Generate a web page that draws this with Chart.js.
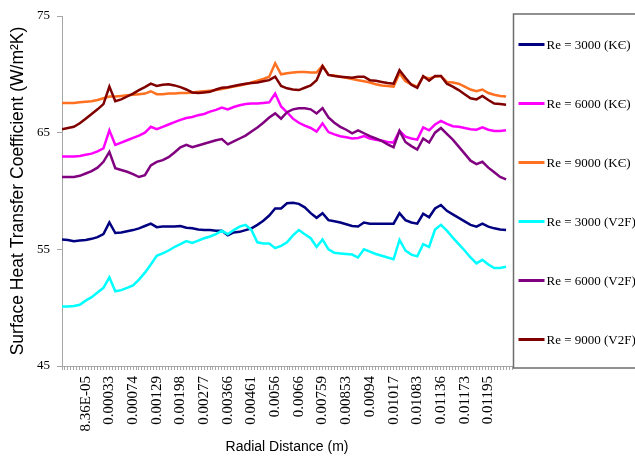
<!DOCTYPE html>
<html>
<head>
<meta charset="utf-8">
<script src="https://cdn.jsdelivr.net/npm/chart.js@4/dist/chart.umd.min.js"></script>
<style>
  html, body { margin: 0; padding: 0; background: #ffffff; }
  #wrap { width: 635px; height: 466px; }
</style>
</head>
<body>
<div id="wrap"><canvas id="chart" width="635" height="466"></canvas></div>
<script>
// Radial distance labels shown along the x axis (every 4th mesh station, starting at station 4)
const tickLabels = ['8.36E-05', '0.00033', '0.00074', '0.00129', '0.00198', '0.00277',
  '0.00366', '0.00461', '0.0056', '0.0066', '0.00759', '0.00853', '0.0094', '0.01017',
  '0.01083', '0.01136', '0.01173', '0.01195'];
const firstLabelStation = 4;
const labelEvery = 4;

const seriesNames = ['Re = 3000 (KЄ)', 'Re = 6000 (KЄ)', 'Re = 9000 (KЄ)',
  'Re = 3000 (V2F)', 'Re = 6000 (V2F)', 'Re = 9000 (V2F)'];

// Surface heat transfer coefficient (W/m²K) at each station
const re3000KE = [55.85, 55.8, 55.7, 55.75, 55.8, 55.9, 56.05, 56.3, 57.3, 56.4,
  56.45, 56.55, 56.65, 56.8, 57.0, 57.2, 56.9, 56.95, 56.95, 56.95,
  57.0, 56.85, 56.8, 56.7, 56.65, 56.65, 56.6, 56.6, 56.2, 56.45,
  56.5, 56.65, 56.8, 57.1, 57.45, 57.9, 58.5, 58.5, 58.95, 59.0,
  58.9, 58.6, 58.1, 57.7, 58.1, 57.5, 57.4, 57.3, 57.15, 57.0,
  56.95, 57.3, 57.2, 57.2, 57.2, 57.2, 57.2, 58.1, 57.5, 57.3,
  57.2, 58.05, 57.75, 58.5, 58.8, 58.3, 58.0, 57.7, 57.4, 57.1,
  56.95, 57.2, 56.95, 56.8, 56.7, 56.65];

const re6000KE = [62.95, 62.95, 62.95, 63.0, 63.1, 63.2, 63.4, 63.65, 65.2, 63.95,
  64.15, 64.35, 64.55, 64.75, 65.0, 65.5, 65.3, 65.5, 65.7, 65.9,
  66.1, 66.25, 66.35, 66.5, 66.6, 66.8, 66.95, 67.15, 67.0, 67.2,
  67.35, 67.45, 67.5, 67.5, 67.55, 67.6, 68.35, 67.25, 66.75, 66.2,
  65.85, 65.6, 65.4, 65.1, 65.8, 65.05, 64.85, 64.7, 64.6, 64.5,
  64.55, 64.7, 64.5, 64.4, 64.3, 64.2, 64.15, 65.15, 64.65, 64.5,
  64.4, 65.45, 65.2, 65.7, 66.0, 65.75, 65.55, 65.5, 65.4, 65.3,
  65.25, 65.45, 65.25, 65.15, 65.15, 65.2];

const re9000KE = [67.55, 67.55, 67.55, 67.6, 67.65, 67.7, 67.8, 67.95, 68.1, 68.1,
  68.15, 68.2, 68.25, 68.3, 68.35, 68.55, 68.3, 68.3, 68.35, 68.35,
  68.4, 68.4, 68.45, 68.5, 68.55, 68.6, 68.65, 68.75, 68.85, 68.95,
  69.05, 69.15, 69.3, 69.45, 69.6, 69.8, 70.95, 70.0, 70.1, 70.15,
  70.2, 70.2, 70.15, 70.15, 70.75, 69.95, 69.9, 69.8, 69.7, 69.6,
  69.5, 69.4, 69.3, 69.15, 69.05, 69.0, 68.95, 70.1, 69.4, 69.15,
  68.95, 69.8, 69.65, 69.8, 69.85, 69.35, 69.3, 69.2, 68.95, 68.7,
  68.55, 68.7, 68.4, 68.25, 68.15, 68.1];

const re3000V2F = [50.1, 50.1, 50.15, 50.25, 50.6, 50.9, 51.3, 51.7, 52.6, 51.4,
  51.5, 51.7, 51.9, 52.4, 53.0, 53.7, 54.45, 54.65, 54.9, 55.2,
  55.45, 55.7, 55.55, 55.75, 55.95, 56.1, 56.3, 56.6, 56.3, 56.65,
  56.95, 57.1, 56.65, 55.6, 55.5, 55.5, 55.1, 55.3, 55.6, 56.2,
  56.65, 56.3, 55.95, 55.2, 55.85, 55.0, 54.7, 54.65, 54.6, 54.55,
  54.3, 55.0, 54.8, 54.6, 54.45, 54.3, 54.15, 55.8, 54.9, 54.55,
  54.4, 55.45, 55.2, 56.7, 57.1, 56.6, 56.0, 55.45, 54.9, 54.3,
  53.8, 54.1, 53.7, 53.4, 53.4, 53.5];

const re6000V2F = [61.2, 61.2, 61.2, 61.3, 61.5, 61.7, 62.0, 62.5, 63.35, 61.95,
  61.8, 61.65, 61.45, 61.2, 61.35, 62.2, 62.5, 62.65, 62.9, 63.3,
  63.75, 63.95, 63.75, 63.9, 64.05, 64.2, 64.35, 64.45, 64.0, 64.25,
  64.5, 64.75, 65.1, 65.45, 65.85, 66.3, 66.65, 66.2, 66.75, 67.0,
  67.1, 67.1, 67.0, 66.65, 67.1, 66.3, 65.85, 65.5, 65.25, 64.95,
  65.2, 64.95, 64.7, 64.5, 64.3, 64.0, 63.75, 65.15, 64.2, 63.85,
  63.55, 64.5, 64.15, 65.0, 65.4, 64.9, 64.4, 63.8, 63.2, 62.6,
  62.3, 62.5, 62.0, 61.6, 61.2, 61.0];

const re9000V2F = [65.3, 65.4, 65.5, 65.8, 66.2, 66.6, 67.0, 67.45, 68.95, 67.7,
  67.85, 68.1, 68.35, 68.65, 68.9, 69.2, 69.0, 69.1, 69.15, 69.05,
  68.9, 68.7, 68.45, 68.4, 68.45, 68.5, 68.7, 68.85, 68.9, 69.0,
  69.1, 69.2, 69.25, 69.3, 69.4, 69.5, 69.8, 69.0, 68.8, 68.7,
  68.65, 68.85, 69.05, 69.5, 70.7, 69.95, 69.85, 69.8, 69.75, 69.7,
  69.8, 69.8, 69.5, 69.45, 69.35, 69.25, 69.2, 70.35, 69.7, 69.1,
  68.85, 69.85, 69.45, 69.85, 69.85, 69.2, 68.95, 68.65, 68.3, 67.95,
  67.85, 68.15, 67.8, 67.5, 67.45, 67.4];

const allSeries = [re3000KE, re6000KE, re9000KE, re3000V2F, re6000V2F, re9000V2F];
const seriesColors = ['#000080', '#ff00ff', '#ff7020', '#00ffff', '#800080', '#800000'];

const lastStation = re3000KE.length - 1;

const datasets = allSeries.map((values, k) => ({
  label: seriesNames[k],
  data: values.map((v, i) => ({ x: i, y: v })),
  borderColor: seriesColors[k],
  backgroundColor: seriesColors[k],
  borderWidth: 2.5,
  pointRadius: 0,
  tension: 0,
  fill: false,
  order: allSeries.length - k
}));

// Boxed legend to the right of the plot, items evenly spread over its height
const boxedLegend = {
  id: 'boxedLegend',
  afterDraw(chart) {
    const { ctx, chartArea } = chart;
    const top = chartArea.top - 2;
    const bottom = chartArea.bottom + 2;
    const left = chartArea.right + 1.5;
    const right = chart.width + 10;
    ctx.save();
    ctx.strokeStyle = '#6e6e6e';
    ctx.lineWidth = 1.5;
    ctx.strokeRect(left, top, right - left, bottom - top);
    const n = chart.data.datasets.length;
    const step = (bottom - top) / n;
    ctx.font = '13px "Liberation Serif", "Times New Roman", serif';
    ctx.textBaseline = 'middle';
    ctx.textAlign = 'left';
    chart.data.datasets.forEach((ds, k) => {
      const cy = Math.round(top + (k + 0.5) * step) + 0.5;
      ctx.strokeStyle = ds.borderColor;
      ctx.lineWidth = 3;
      ctx.beginPath();
      ctx.moveTo(left + 5, cy);
      ctx.lineTo(left + 31, cy);
      ctx.stroke();
      ctx.fillStyle = '#000';
      ctx.fillText(ds.label, left + 33, cy + 1);
    });
    ctx.restore();
  }
};

new Chart(document.getElementById('chart'), {
  type: 'line',
  data: { datasets },
  plugins: [boxedLegend],
  options: {
    responsive: false,
    animation: false,
    events: [],
    layout: { padding: { top: 16, right: 123, bottom: 0, left: 0 } },
    plugins: { legend: { display: false }, tooltip: { enabled: false } },
    scales: {
      x: {
        type: 'linear',
        min: 0,
        max: lastStation + 1,
        afterFit(scale) { scale.height = 100; },
        border: { color: '#a6a6a6', width: 1 },
        grid: { drawOnChartArea: false, drawTicks: true, tickLength: 4, color: '#a6a6a6' },
        ticks: {
          stepSize: 0.5,
          autoSkip: false,
          minRotation: 90,
          maxRotation: 90,
          padding: 6,
          color: '#000',
          font: { family: '"Liberation Serif", "Times New Roman", serif', size: 15 },
          callback(value) {
            const k = (value - firstLabelStation) / labelEvery;
            return (Number.isInteger(k) && k >= 0 && k < tickLabels.length) ? tickLabels[k] : '';
          }
        },
        title: {
          display: true,
          text: 'Radial Distance (m)',
          color: '#000',
          font: { family: '"Liberation Sans", Arial, sans-serif', size: 14 },
          padding: { top: 0, bottom: 10 }
        }
      },
      y: {
        min: 45,
        max: 75,
        afterFit(scale) { scale.width = 62; },
        border: { color: '#a6a6a6', width: 1 },
        grid: { drawOnChartArea: false, drawTicks: true, tickLength: 5, color: '#a6a6a6' },
        ticks: {
          stepSize: 10,
          padding: 7,
          color: '#000',
          font: { family: '"Liberation Serif", "Times New Roman", serif', size: 13 }
        },
        title: {
          display: true,
          text: 'Surface Heat Transfer Coefficient (W/m²K)',
          color: '#000',
          font: { family: '"Liberation Sans", Arial, sans-serif', size: 17.5 },
          padding: { top: 8, bottom: 0 }
        }
      }
    }
  }
});
</script>
</body>
</html>
